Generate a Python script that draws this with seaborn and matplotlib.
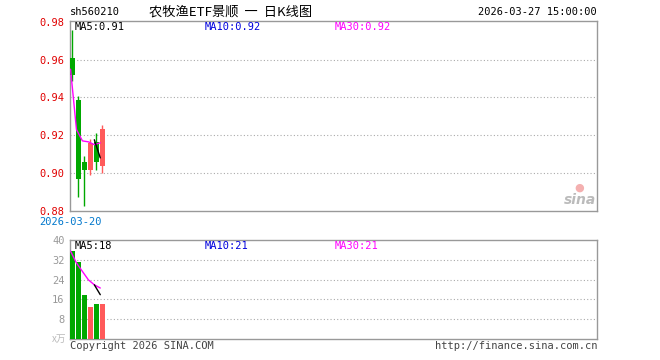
import matplotlib
matplotlib.use("Agg")
import matplotlib.pyplot as plt
import seaborn as sns
import pandas as pd
import numpy as np

# ---- data ----
days = ["2026-03-20", "2026-03-23", "2026-03-24", "2026-03-25", "2026-03-26", "2026-03-27"]
opens = [0.961, 0.9386, 0.9059, 0.9014, 0.9165, 0.9035]
closes = [0.952, 0.897, 0.9014, 0.9161, 0.906, 0.9233]
highs = [0.976, 0.9409, 0.909, 0.918, 0.9214, 0.9254]
lows = [0.949, 0.8875, 0.8823, 0.8988, 0.9018, 0.900]
volumes = [35.5, 31.0, 17.9, 13.0, 14.3, 14.3]
ma_long_price = [0.955, 0.923, 0.917, 0.9165, 0.915, 0.916]
ma5_price = [0.9176, 0.908]
ma_long_vol = [35.5, 30.7, 27.3, 23.9, 21.9, 20.6]
ma5_vol = [21.9, 17.9]
price_ticks = [0.88, 0.90, 0.92, 0.94, 0.96, 0.98]
vol_ticks = [8, 16, 24, 32, 40]

sns.set_style("white")
plt.rcParams['font.family'] = ['DejaVu Sans Mono', 'Noto Sans CJK SC']

GREEN = "#00A800"
RED = "#FF5A5A"
FRAME = "#999999"
GRID = "#aaaaaa"
MAG = "#ff00ff"
BLUE = "#0000dd"

fig = plt.figure(figsize=(6.6, 3.6), dpi=100)
ax1 = fig.add_axes([70/660, 1-210.7/360, 527/660, 190/360])
ax2 = fig.add_axes([70/660, 1-339/360, 527/660, 99/360])

n = len(days)
idx = np.arange(n)
colors = [RED if c >= o else GREEN for o, c in zip(opens, closes)]
XMIN, XMAX = -0.42, 88.2
shift = -0.33

# candles
for i in range(n):
    ax1.vlines(idx[i], lows[i], highs[i], color=colors[i], lw=1, zorder=3)
    b = min(opens[i], closes[i])
    h = abs(closes[i] - opens[i])
    ax1.bar(idx[i], h, bottom=b, width=0.84, color=colors[i], lw=0, zorder=4)

df_ml = pd.DataFrame({"x": idx + shift, "y": ma_long_price})
sns.lineplot(data=df_ml, x="x", y="y", ax=ax1, color=MAG, lw=1, zorder=5)
df_m5 = pd.DataFrame({"x": idx[-2:] + shift, "y": ma5_price})
sns.lineplot(data=df_m5, x="x", y="y", ax=ax1, color="black", lw=1, zorder=6)

ax1.set_xlim(XMIN, XMAX)
ax1.set_ylim(0.88, 0.9807)
ax1.set_yticks(price_ticks)
ax1.set_yticklabels([f"{t:.2f}" for t in price_ticks], color="#e00000", fontsize=7.5)
ax1.set_xticks([])
for t in [0.90, 0.92, 0.94, 0.96]:
    ax1.axhline(t, color=GRID, lw=0.8, ls=(0, (1, 2)), zorder=1)
ax1.set_xlabel("")
ax1.set_ylabel("")

# volume
for i in range(n):
    ax2.bar(idx[i], volumes[i], width=0.84, color=colors[i], lw=0, zorder=3)
df_vl = pd.DataFrame({"x": idx + shift, "y": ma_long_vol})
sns.lineplot(data=df_vl, x="x", y="y", ax=ax2, color=MAG, lw=1, zorder=5)
df_v5 = pd.DataFrame({"x": idx[-2:] + shift, "y": ma5_vol})
sns.lineplot(data=df_v5, x="x", y="y", ax=ax2, color="black", lw=1, zorder=6)
ax2.set_xlim(XMIN, XMAX)
ax2.set_ylim(0, 40)
ax2.set_yticks(vol_ticks)
ax2.set_yticklabels([str(t) for t in vol_ticks], color="#999999", fontsize=7.5)
ax2.set_xticks([])
for t in [8, 16, 24, 32]:
    ax2.axhline(t, color=GRID, lw=0.8, ls=(0, (1, 2)), zorder=1)
ax2.set_xlabel("")
ax2.set_ylabel("")

for ax in (ax1, ax2):
    for s in ax.spines.values():
        s.set_color(FRAME)
        s.set_linewidth(1)
    ax.tick_params(axis="y", length=0, pad=4)

# texts (figure pixel coords)
def ftext(x, y, s, **kw):
    fig.text(x/660, 1-y/360, s, **kw)

ftext(70, 12, "sh560210", fontsize=7.5, ha="left", va="center", color="black")
ftext(231, 12, "农牧渔ETF景顺  一  日K线图", fontsize=9.5, ha="center", va="center",
      color="black", family=['Noto Sans CJK SC', 'DejaVu Sans'])
ftext(597, 12, "2026-03-27 15:00:00", fontsize=7.5, ha="right", va="center", color="black")
ftext(75, 27, "MA5:0.91", fontsize=7.5, ha="left", va="center", color="black")
ftext(205, 27, "MA10:0.92", fontsize=7.5, ha="left", va="center", color=BLUE)
ftext(335, 27, "MA30:0.92", fontsize=7.5, ha="left", va="center", color=MAG)
ftext(75, 246, "MA5:18", fontsize=7.5, ha="left", va="center", color="black")
ftext(205, 246, "MA10:21", fontsize=7.5, ha="left", va="center", color=BLUE)
ftext(335, 246, "MA30:21", fontsize=7.5, ha="left", va="center", color=MAG)
ftext(70, 222, days[0], fontsize=7.5, ha="center", va="center", color="#0077cc")
ftext(66, 339, "x万", fontsize=7, ha="right", va="center", color="#bbbbbb",
      family=['Noto Sans CJK SC', 'DejaVu Sans'])
ftext(70, 346, "Copyright 2026 SINA.COM", fontsize=7.5, ha="left", va="center", color="#444444")
ftext(597, 346, "http://finance.sina.com.cn", fontsize=7.5, ha="right", va="center", color="#444444")
ftext(596, 200, "sina", fontsize=10, ha="right", va="center", color="#bbbbbb",
      style="italic", weight="bold", family=['DejaVu Sans'])
ftext(579, 188, "●", fontsize=8, ha="center", va="center", color="#f4b0b0",
      family=['DejaVu Sans'])

fig.savefig("out.png", dpi=100)
